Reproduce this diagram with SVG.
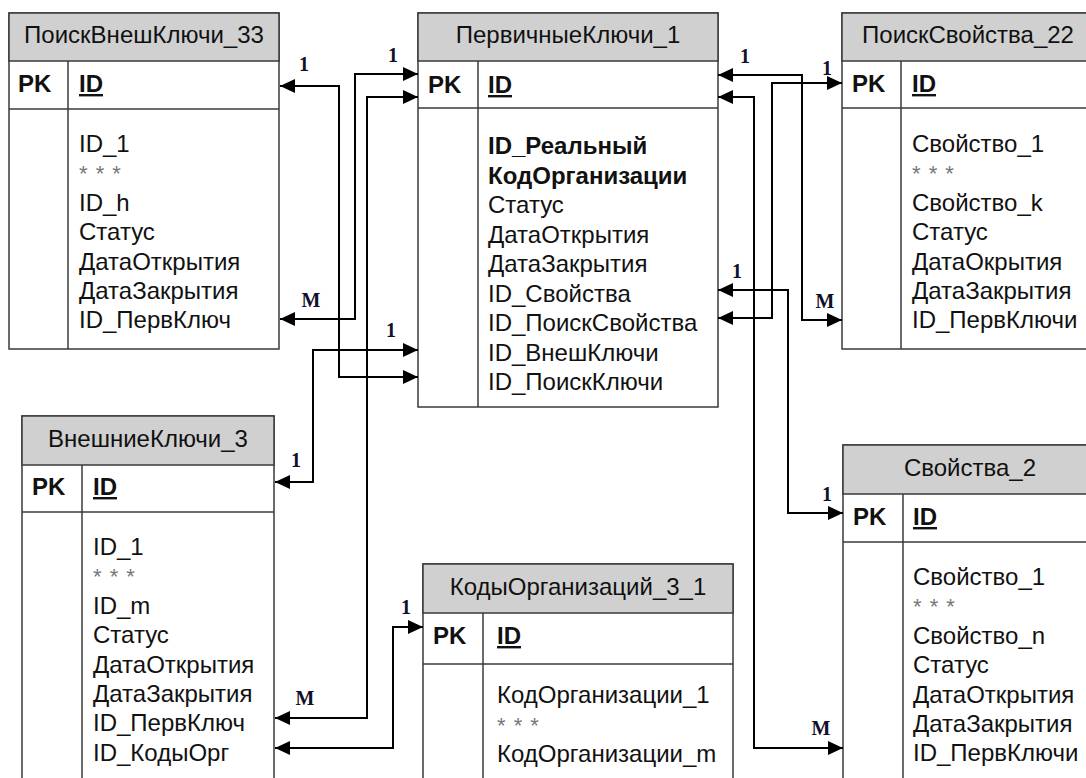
<svg xmlns="http://www.w3.org/2000/svg" width="1086" height="778" viewBox="0 0 1086 778">
<style>
.box{fill:#fff;stroke:#3a3a3a;stroke-width:1.5}
.hdr{fill:#d0d0d0;stroke:#3a3a3a;stroke-width:1.5}
.ln{stroke:#3a3a3a;stroke-width:1.5;fill:none}
.t{font-family:"Liberation Sans",Arial,sans-serif;font-size:24px;fill:#111}
.title{text-anchor:middle}
.b{font-weight:bold}
.u{font-weight:bold;text-decoration:underline}
.ast{fill:#777;font-size:22px;letter-spacing:1px}
.con{stroke:#000;stroke-width:2;fill:none;marker-start:url(#ah);marker-end:url(#ah)}
.lbl{font-family:"Liberation Serif","Times New Roman",serif;font-weight:bold;font-size:20px;fill:#10102a;text-anchor:middle}
</style>
<defs>
<marker id="ah" markerUnits="userSpaceOnUse" markerWidth="16" markerHeight="14" refX="15" refY="7" orient="auto-start-reverse">
<path d="M0,0 L15,7 L0,14 z" fill="#000"/>
</marker>
</defs>
<rect width="1086" height="778" fill="#fff"/>

<g id="poiskvneshklyuchi">
<rect class="box" x="9" y="13" width="270" height="336"/>
<rect class="hdr" x="9" y="13" width="270" height="48"/>
<line class="ln" x1="9" y1="109" x2="279" y2="109"/>
<line class="ln" x1="68" y1="61" x2="68" y2="349"/>
<text class="t title" x="144" y="43">ПоискВнешКлючи_33</text>
<text class="t b" x="18" y="92">PK</text>
<text class="t u" x="79" y="92">ID</text>
<text class="t" x="79" y="152">ID_1</text>
<text class="t ast" x="79" y="181.4">* * *</text>
<text class="t" x="79" y="210.8">ID_h</text>
<text class="t" x="79" y="240.2">Статус</text>
<text class="t" x="79" y="269.6">ДатаОткрытия</text>
<text class="t" x="79" y="299">ДатаЗакрытия</text>
<text class="t" x="79" y="328.4">ID_ПервКлюч</text>
</g>

<g id="pervichnyeklyuchi">
<rect class="box" x="418" y="13" width="300" height="394"/>
<rect class="hdr" x="418" y="13" width="300" height="48"/>
<line class="ln" x1="418" y1="108" x2="718" y2="108"/>
<line class="ln" x1="478" y1="61" x2="478" y2="407"/>
<text class="t title" x="568" y="43">ПервичныеКлючи_1</text>
<text class="t b" x="428" y="93">PK</text>
<text class="t u" x="488" y="93">ID</text>
<text class="t b" x="488" y="154">ID_Реальный</text>
<text class="t b" x="488" y="183.5">КодОрганизации</text>
<text class="t" x="488" y="213">Статус</text>
<text class="t" x="488" y="242.5">ДатаОткрытия</text>
<text class="t" x="488" y="272">ДатаЗакрытия</text>
<text class="t" x="488" y="301.5">ID_Свойства</text>
<text class="t" x="488" y="331">ID_ПоискСвойства</text>
<text class="t" x="488" y="360.5">ID_ВнешКлючи</text>
<text class="t" x="488" y="390">ID_ПоискКлючи</text>
</g>

<g id="poisksvoistva">
<rect class="box" x="842" y="13" width="252" height="336"/>
<rect class="hdr" x="842" y="13" width="252" height="48"/>
<line class="ln" x1="842" y1="108" x2="1094" y2="108"/>
<line class="ln" x1="901" y1="61" x2="901" y2="349"/>
<text class="t title" x="968" y="43">ПоискСвойства_22</text>
<text class="t b" x="852" y="92">PK</text>
<text class="t u" x="912" y="92">ID</text>
<text class="t" x="912" y="152">Свойство_1</text>
<text class="t ast" x="912" y="181.4">* * *</text>
<text class="t" x="912" y="210.8">Свойство_k</text>
<text class="t" x="912" y="240.2">Статус</text>
<text class="t" x="912" y="269.6">ДатаОкрытия</text>
<text class="t" x="912" y="299">ДатаЗакрытия</text>
<text class="t" x="912" y="328.4">ID_ПервКлючи</text>
</g>

<g id="vneshnieklyuchi">
<rect class="box" x="22" y="416" width="252" height="380"/>
<rect class="hdr" x="22" y="416" width="252" height="49"/>
<line class="ln" x1="22" y1="512" x2="274" y2="512"/>
<line class="ln" x1="82" y1="465" x2="82" y2="796"/>
<text class="t title" x="148" y="447">ВнешниеКлючи_3</text>
<text class="t b" x="32" y="495">PK</text>
<text class="t u" x="93" y="495">ID</text>
<text class="t" x="93" y="555">ID_1</text>
<text class="t ast" x="93" y="584.4">* * *</text>
<text class="t" x="93" y="613.8">ID_m</text>
<text class="t" x="93" y="643.2">Статус</text>
<text class="t" x="93" y="672.6">ДатаОткрытия</text>
<text class="t" x="93" y="702">ДатаЗакрытия</text>
<text class="t" x="93" y="731.4">ID_ПервКлюч</text>
<text class="t" x="93" y="760.8">ID_КодыОрг</text>
</g>

<g id="kodyorganizatsii">
<rect class="box" x="423" y="564" width="310" height="240"/>
<rect class="hdr" x="423" y="564" width="310" height="49"/>
<line class="ln" x1="423" y1="664" x2="733" y2="664"/>
<line class="ln" x1="483" y1="613" x2="483" y2="804"/>
<text class="t title" x="578" y="595">КодыОрганизаций_3_1</text>
<text class="t b" x="433" y="644">PK</text>
<text class="t u" x="497" y="644">ID</text>
<text class="t" x="497" y="703">КодОрганизации_1</text>
<text class="t ast" x="497" y="732.5">* * *</text>
<text class="t" x="497" y="762">КодОрганизации_m</text>
</g>

<g id="svoistva">
<rect class="box" x="843" y="445" width="252" height="360"/>
<rect class="hdr" x="843" y="445" width="252" height="49"/>
<line class="ln" x1="843" y1="542" x2="1095" y2="542"/>
<line class="ln" x1="903" y1="494" x2="903" y2="805"/>
<text class="t title" x="970" y="476">Свойства_2</text>
<text class="t b" x="853" y="525">PK</text>
<text class="t u" x="913" y="525">ID</text>
<text class="t" x="913" y="585">Свойство_1</text>
<text class="t ast" x="913" y="614.4">* * *</text>
<text class="t" x="913" y="643.8">Свойство_n</text>
<text class="t" x="913" y="673.2">Статус</text>
<text class="t" x="913" y="702.6">ДатаОткрытия</text>
<text class="t" x="913" y="732">ДатаЗакрытия</text>
<text class="t" x="913" y="761.4">ID_ПервКлючи</text>
</g>

<g id="connectors">
<path class="con" d="M280,86 H339 V377 H418"/>
<path class="con" d="M280,319 H355 V74 H418"/>
<path class="con" d="M275,718 H367 V97 H418"/>
<path class="con" d="M275,482 H313 V350 H418"/>
<path class="con" d="M275,748 H393 V627 H423"/>
<path class="con" d="M718,75 H802 V320 H842"/>
<path class="con" d="M718,318 H772 V83 H842"/>
<path class="con" d="M718,290 H788 V513 H843"/>
<path class="con" d="M718,97 H754 V748 H843"/>
<text class="lbl" x="304" y="71">1</text>
<text class="lbl" x="311" y="307">M</text>
<text class="lbl" x="393" y="62">1</text>
<text class="lbl" x="391" y="337">1</text>
<text class="lbl" x="296" y="467">1</text>
<text class="lbl" x="305" y="705">M</text>
<text class="lbl" x="406" y="614">1</text>
<text class="lbl" x="745" y="63">1</text>
<text class="lbl" x="827" y="75">1</text>
<text class="lbl" x="737" y="278">1</text>
<text class="lbl" x="825" y="308">M</text>
<text class="lbl" x="827" y="501">1</text>
<text class="lbl" x="821" y="735">M</text>
</g>
</svg>
